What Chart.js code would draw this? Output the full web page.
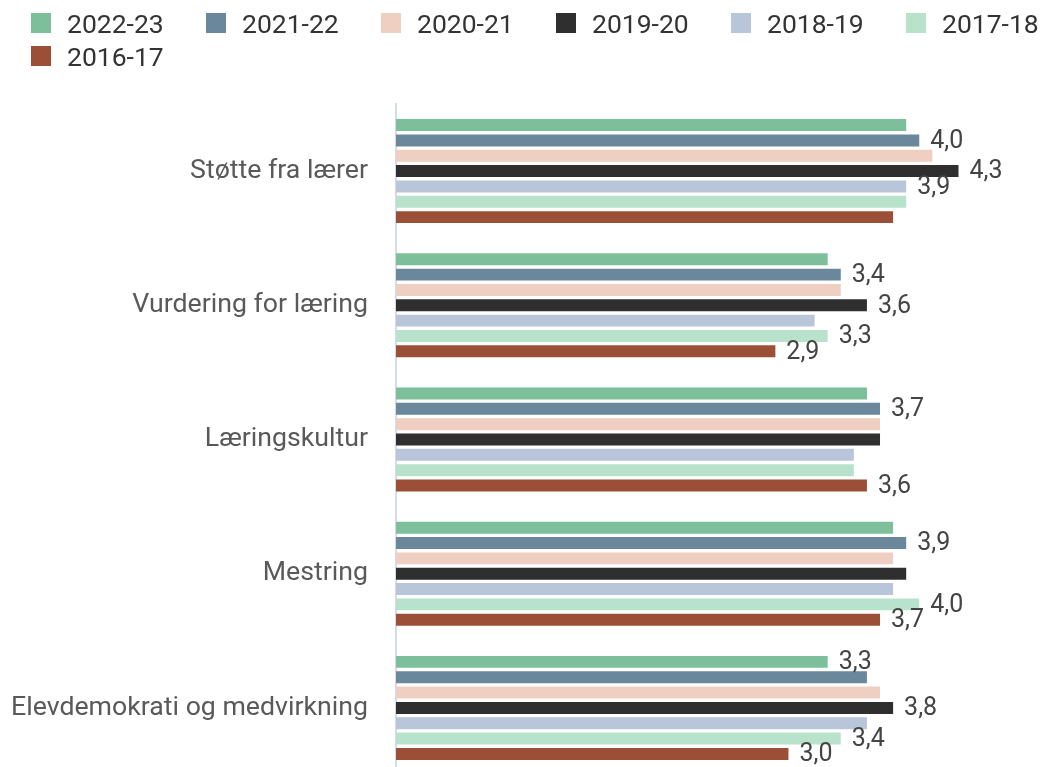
<!DOCTYPE html>
<html lang="no">
<head>
  <meta charset="UTF-8" />
  <title>Elevundersøkelsen</title>
  <script src="https://cdn.jsdelivr.net/npm/chart.js"></script>
  <style>
    html, body {
      margin: 0;
      padding: 0;
      background: #fff;
      overflow: hidden;
      font-family: Roboto, sans-serif;
    }

    .wrap {
      position: relative;
      width: 1044px;
      height: 767px;
      overflow: hidden;
    }

    .chart-box {
      position: absolute;
      left: 0;
      top: 0;
      width: 1044px;
      height: 775px;
    }

    #legend {
      position: absolute;
      left: 31px;
      top: 8px;
      display: grid;
      grid-template-columns: repeat(6, 175px);
      row-gap: 3px;
      z-index: 2;
    }

    .item {
      display: flex;
      align-items: center;
      height: 30px;
      font-size: 26.5px;
      color: #333;
      white-space: nowrap;
    }

    .item span.box {
      width: 20px;
      height: 20px;
      margin-right: 16px;
    }
  </style>
</head>
<body>
  <div class="wrap">
    <div id="legend"></div>
    <div class="chart-box">
      <canvas id="chart"></canvas>
    </div>
  </div>

  <script>
    // categories (top to bottom)
    const categories = [
      "Støtte fra lærer",
      "Vurdering for læring",
      "Læringskultur",
      "Mestring",
      "Elevdemokrati og medvirkning"
    ];

    const years = ["2022-23", "2021-22", "2020-21", "2019-20", "2018-19", "2017-18", "2016-17"];
    const colors = ["#7dbf9a", "#6a879c", "#efcfc2", "#2f2f2f", "#b9c5d8", "#b9e2cc", "#9c4f37"];

    // values per year, same order as categories
    const v2022_23 = [3.9, 3.3, 3.6, 3.8, 3.3];
    const v2021_22 = [4.0, 3.4, 3.7, 3.9, 3.6];
    const v2020_21 = [4.1, 3.4, 3.7, 3.8, 3.7];
    const v2019_20 = [4.3, 3.6, 3.7, 3.9, 3.8];
    const v2018_19 = [3.9, 3.2, 3.5, 3.8, 3.6];
    const v2017_18 = [3.9, 3.3, 3.5, 4.0, 3.4];
    const v2016_17 = [3.8, 2.9, 3.6, 3.7, 3.0];
    const seriesValues = [v2022_23, v2021_22, v2020_21, v2019_20, v2018_19, v2017_18, v2016_17];

    // which bars get a value label (1 = shown)
    const labelShown = [
      [0, 0, 0, 0, 1],
      [1, 1, 1, 1, 0],
      [0, 0, 0, 0, 0],
      [1, 1, 0, 0, 1],
      [1, 0, 0, 0, 0],
      [0, 1, 0, 1, 1],
      [0, 1, 1, 1, 1]
    ];

    const fmt = v => v.toFixed(1).replace(".", ",");

    // === value labels at bar end ===
    const valueLabels = {
      id: "valueLabels",
      afterDatasetsDraw(chart) {
        const ctx = chart.ctx;
        ctx.save();
        ctx.font = "25px Roboto, sans-serif";
        ctx.fillStyle = "#444";
        ctx.textAlign = "left";
        ctx.textBaseline = "middle";
        chart.data.datasets.forEach((ds, i) => {
          chart.getDatasetMeta(i).data.forEach((bar, j) => {
            if (!labelShown[i][j]) return;
            ctx.fillText(fmt(ds.data[j]), bar.x + 11, bar.y + 1);
          });
        });
        ctx.restore();
      }
    };

    const chart = new Chart(document.getElementById("chart"), {
      type: "bar",
      data: {
        labels: categories,
        datasets: years.map((y, i) => ({
          label: y,
          data: seriesValues[i],
          backgroundColor: colors[i],
          borderWidth: 0,
          categoryPercentage: 0.8,
          barPercentage: 0.78
        }))
      },
      options: {
        indexAxis: "y",
        responsive: true,
        maintainAspectRatio: false,
        animation: false,
        layout: {
          padding: { top: 104, right: 7, bottom: 0, left: 0 }
        },
        plugins: {
          legend: { display: false },
          tooltip: { enabled: false }
        },
        scales: {
          x: {
            display: false,
            min: 0,
            max: 4.9
          },
          y: {
            grid: { display: false, drawTicks: false },
            border: { color: "#d3dbe9", width: 2 },
            ticks: {
              color: "#595959",
              padding: 28,
              font: { family: "Roboto", size: 26.7 }
            },
            afterFit(scale) {
              scale.width = 396;
              // labels sit inside the bands, no extra room needed above/below
              scale.paddingTop = 0;
              scale.paddingBottom = 0;
            }
          }
        }
      },
      plugins: [valueLabels]
    });

    // === HTML legend ===
    const legendEl = document.getElementById("legend");
    chart.data.datasets.forEach(ds => {
      const item = document.createElement("div");
      item.className = "item";
      const box = document.createElement("span");
      box.className = "box";
      box.style.background = ds.backgroundColor;
      item.appendChild(box);
      item.appendChild(document.createTextNode(ds.label));
      legendEl.appendChild(item);
    });
  </script>
</body>
</html>
